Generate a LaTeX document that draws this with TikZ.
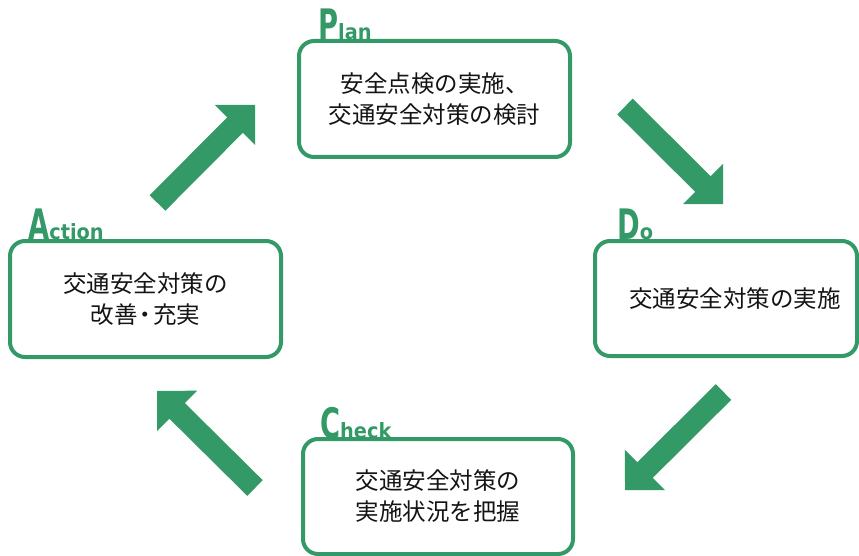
\documentclass[tikz,border=0pt]{standalone}
\usepackage{fontspec}
\usepackage{graphicx}
\usetikzlibrary{calc}
\setmainfont{DejaVu Sans}
\newfontfamily\jpfont{Noto Sans CJK JP}
\newfontfamily\lblfont{DejaVu Sans}
\definecolor{pdcagreen}{RGB}{51,153,102}
\definecolor{txtcol}{RGB}{20,20,20}
\newcommand\capL[1]{\scalebox{0.65}[1]{\fontsize{42}{42}\selectfont #1}}
\newcommand\restL[1]{\scalebox{0.92}[1]{\fontsize{21}{21}\selectfont #1}}
\newcommand\pdcaarrow[2]{%
  \coordinate (hb) at ($(#2)!28.3pt!(#1)$);
  \fill[cyclearrow] ($(#1)!11pt!90:(#2)$) -- ($(hb)!11pt!90:(#2)$) -- ($(hb)!28.5pt!90:(#2)$) -- (#2) -- ($(hb)!28.5pt!-90:(#2)$) -- ($(hb)!11pt!-90:(#2)$) -- ($(#1)!11pt!-90:(#2)$) -- cycle;}
\tikzset{
  stagebox/.style={draw=pdcagreen, line width=4pt, rounded corners=15pt, fill=white,
    align=center, font=\jpfont\fontsize{23.5}{31}\selectfont, text=txtcol, inner sep=0pt},
  stagelabel/.style={anchor=base west, inner sep=0pt, text=pdcagreen, font=\lblfont\bfseries},
  cyclearrow/.style={fill=pdcagreen, draw=none}
}
\begin{document}
\begin{tikzpicture}[x=1pt,y=-1pt]
\useasboundingbox (0,0) rectangle (859,556);
% boxes
\node[stagebox, minimum width=271pt, minimum height=116pt] (plan) at (434.5,99)
  {安全点検の実施、\\交通安全対策の検討};
\node[stagebox, minimum width=262pt, minimum height=115pt] (do) at (726,298.5)
  {\hspace*{18pt}交通安全対策の実施};
\node[stagebox, minimum width=271pt, minimum height=116pt] (action) at (145.5,299)
  {交通安全対策の\\改善\kern-4pt・\kern-4pt充実};
\node[stagebox, minimum width=270pt, minimum height=115pt] (check) at (438,496.5)
  {交通安全対策の\\実施状況を把握};
% labels
\node[stagelabel] (plab) at ($(plan.north west)+(21,1)$) {\capL{P}\restL{lan}};
\node[stagelabel] (dlab) at ($(do.north west)+(24,1)$) {\capL{D}\restL{o}};
\node[stagelabel] (alab) at ($(action.north west)+(20,1)$) {\capL{A}\restL{ction}};
\node[stagelabel] (clab) at ($(check.north west)+(19,1)$) {\capL{C}\restL{heck}};
% arrow end points
\coordinate (a1s) at (625,106.5);  \coordinate (a1e) at (723,204);
\coordinate (a2s) at (723.5,392);  \coordinate (a2e) at (625,490);
\coordinate (a3s) at (255,488);    \coordinate (a3e) at (157,391);
\coordinate (a4s) at (157.5,203);  \coordinate (a4e) at (255,105);
\pdcaarrow{a1s}{a1e}
\pdcaarrow{a2s}{a2e}
\pdcaarrow{a3s}{a3e}
\pdcaarrow{a4s}{a4e}
\end{tikzpicture}
\end{document}
